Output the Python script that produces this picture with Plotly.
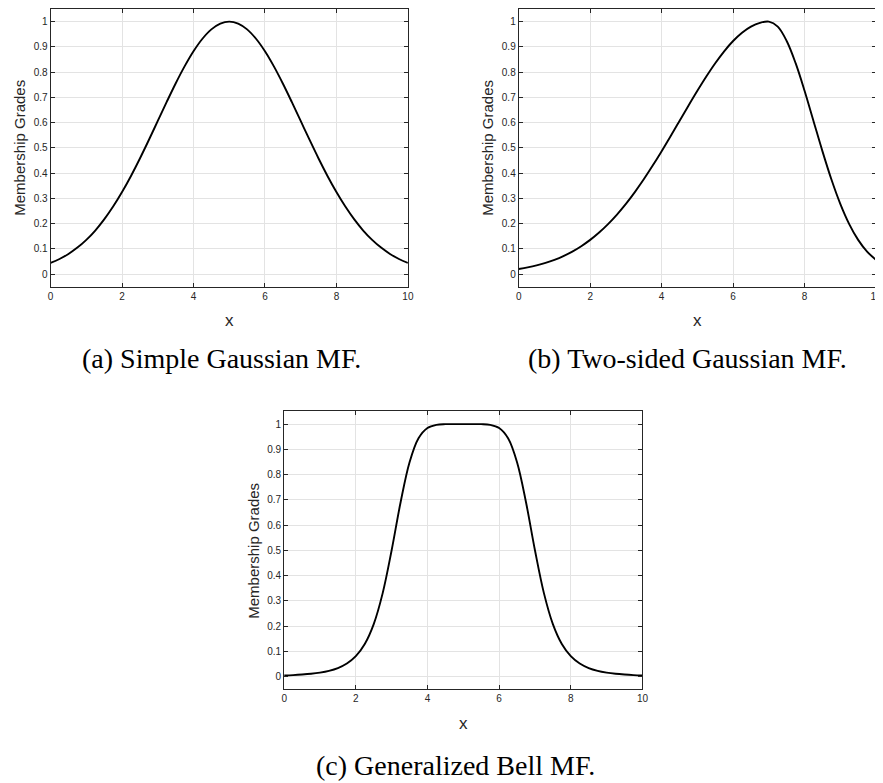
import plotly.graph_objects as go

# ---- data ----
x_vals = [i * 0.25 for i in range(41)]

gauss_vals = [0.0439, 0.0596, 0.0796, 0.1046, 0.1353, 0.1724, 0.2163, 0.2671, 0.3247, 0.3886,
              0.4578, 0.5311, 0.6065, 0.6819, 0.7548, 0.8226, 0.8825, 0.9321, 0.9692, 0.9922,
              1.0,
              0.9922, 0.9692, 0.9321, 0.8825, 0.8226, 0.7548, 0.6819, 0.6065, 0.5311, 0.4578,
              0.3886, 0.3247, 0.2671, 0.2163, 0.1724, 0.1353, 0.1046, 0.0796, 0.0596, 0.0439]

two_sided_vals = [0.0198, 0.0261, 0.0340, 0.0439, 0.0561, 0.0710, 0.0889, 0.1103, 0.1353, 0.1645,
                  0.1979, 0.2357, 0.2780, 0.3247, 0.3753, 0.4296, 0.4868, 0.5461, 0.6065, 0.6670,
                  0.7261, 0.7827, 0.8353, 0.8825, 0.9231, 0.9560, 0.9802, 0.9950, 1.0,
                  0.9802, 0.9231, 0.8353, 0.7261, 0.6065, 0.4868, 0.3753, 0.2780, 0.1979, 0.1353,
                  0.0889, 0.0561]

bell_vals = [0.0041, 0.0055, 0.0077, 0.0107, 0.0154, 0.0225, 0.0336, 0.0515, 0.0807, 0.1289,
             0.2077, 0.3303, 0.5, 0.6902, 0.8489, 0.9438, 0.9846, 0.9972, 0.9998, 1.0,
             1.0,
             1.0, 0.9998, 0.9972, 0.9846, 0.9438, 0.8489, 0.6902, 0.5, 0.3303, 0.2077,
             0.1289, 0.0807, 0.0515, 0.0336, 0.0225, 0.0154, 0.0107, 0.0077, 0.0055, 0.0041]

x_ticks = [0, 2, 4, 6, 8, 10]
y_ticks = [0, 0.1, 0.2, 0.3, 0.4, 0.5, 0.6, 0.7, 0.8, 0.9, 1]
y_tick_text = ["0", "0.1", "0.2", "0.3", "0.4", "0.5", "0.6", "0.7", "0.8", "0.9", "1"]

captions = ["(a) Simple Gaussian MF.", "(b) Two-sided Gaussian MF.", "(c) Generalized Bell MF."]
y_title = "Membership Grades"
x_title = "x"

# ---- figure ----
# The page body has an 8px margin, so the figure is drawn 8px in from the window edge.
OFF = 8
W, H = 883 - OFF, 783 - OFF
panels = [
    # (x0, x1, ytop, ybottom) in window pixels
    (48, 409, 8, 286),
    (521, 882, 8, 286),
    (284, 646, 411, 689),
]
series = [gauss_vals, two_sided_vals, bell_vals]

fig = go.Figure()
axcol = "#262626"
gridcol = "#e3e3e3"
sans = "Liberation Sans, Arial, sans-serif"


def px(xp):
    return (xp - OFF) / W


def py(yp):
    return 1 - (yp - OFF) / H


annotations = []
for i, ((x0, x1, yt, yb), ys) in enumerate(zip(panels, series)):
    n = "" if i == 0 else str(i + 1)
    fig.add_trace(go.Scatter(x=x_vals, y=ys, mode="lines",
                             line=dict(color="black", width=1.9, shape="spline", smoothing=1.0),
                             xaxis="x" + n, yaxis="y" + n, showlegend=False, hoverinfo="skip"))
    xdom = [px(x0), min(px(x1), 1.0)]
    ydom = [py(yb), py(yt)]
    common = dict(showline=True, linecolor=axcol, linewidth=1, mirror="ticks",
                  ticks="inside", ticklen=4, tickcolor=axcol, tickwidth=1,
                  showgrid=True, gridcolor=gridcol, gridwidth=1, zeroline=False,
                  tickfont=dict(family=sans, size=10, color=axcol),
                  ticklabeloverflow="allow")
    fig.update_layout(**{
        "xaxis" + n: dict(domain=xdom, anchor="y" + n, range=[0, 10], tickvals=x_ticks,
                          ticktext=[str(t) for t in x_ticks], **common),
        "yaxis" + n: dict(domain=ydom, anchor="x" + n, range=[-0.05, 1.05], tickvals=y_ticks,
                          ticktext=y_tick_text, **common),
    })
    cx = (x0 + x1) / 2
    cy = (yt + yb) / 2
    annotations.append(dict(text=y_title, textangle=-90, x=px(x0 - 31), y=py(cy),
                            xref="paper", yref="paper", showarrow=False, xanchor="center",
                            yanchor="middle", font=dict(family=sans, size=15, color=axcol)))
    annotations.append(dict(text=x_title, x=px(cx), y=py(yb + 34), xref="paper", yref="paper",
                            showarrow=False, xanchor="center", yanchor="middle",
                            font=dict(family=sans, size=17, color=axcol)))
cap_pos = [(221, 358), (692, 358), (457, 765)]
for (cx, cy), c in zip(cap_pos, captions):
    annotations.append(dict(text=c, x=px(cx), y=py(cy), xref="paper", yref="paper",
                            showarrow=False, xanchor="center", yanchor="middle",
                            font=dict(family="Liberation Serif, Times New Roman, serif", size=28,
                                      color="black")))

fig.update_layout(width=W, height=H, margin=dict(l=0, r=0, t=0, b=0),
                  paper_bgcolor="white", plot_bgcolor="white", annotations=annotations)

fig.write_html("out.html")
